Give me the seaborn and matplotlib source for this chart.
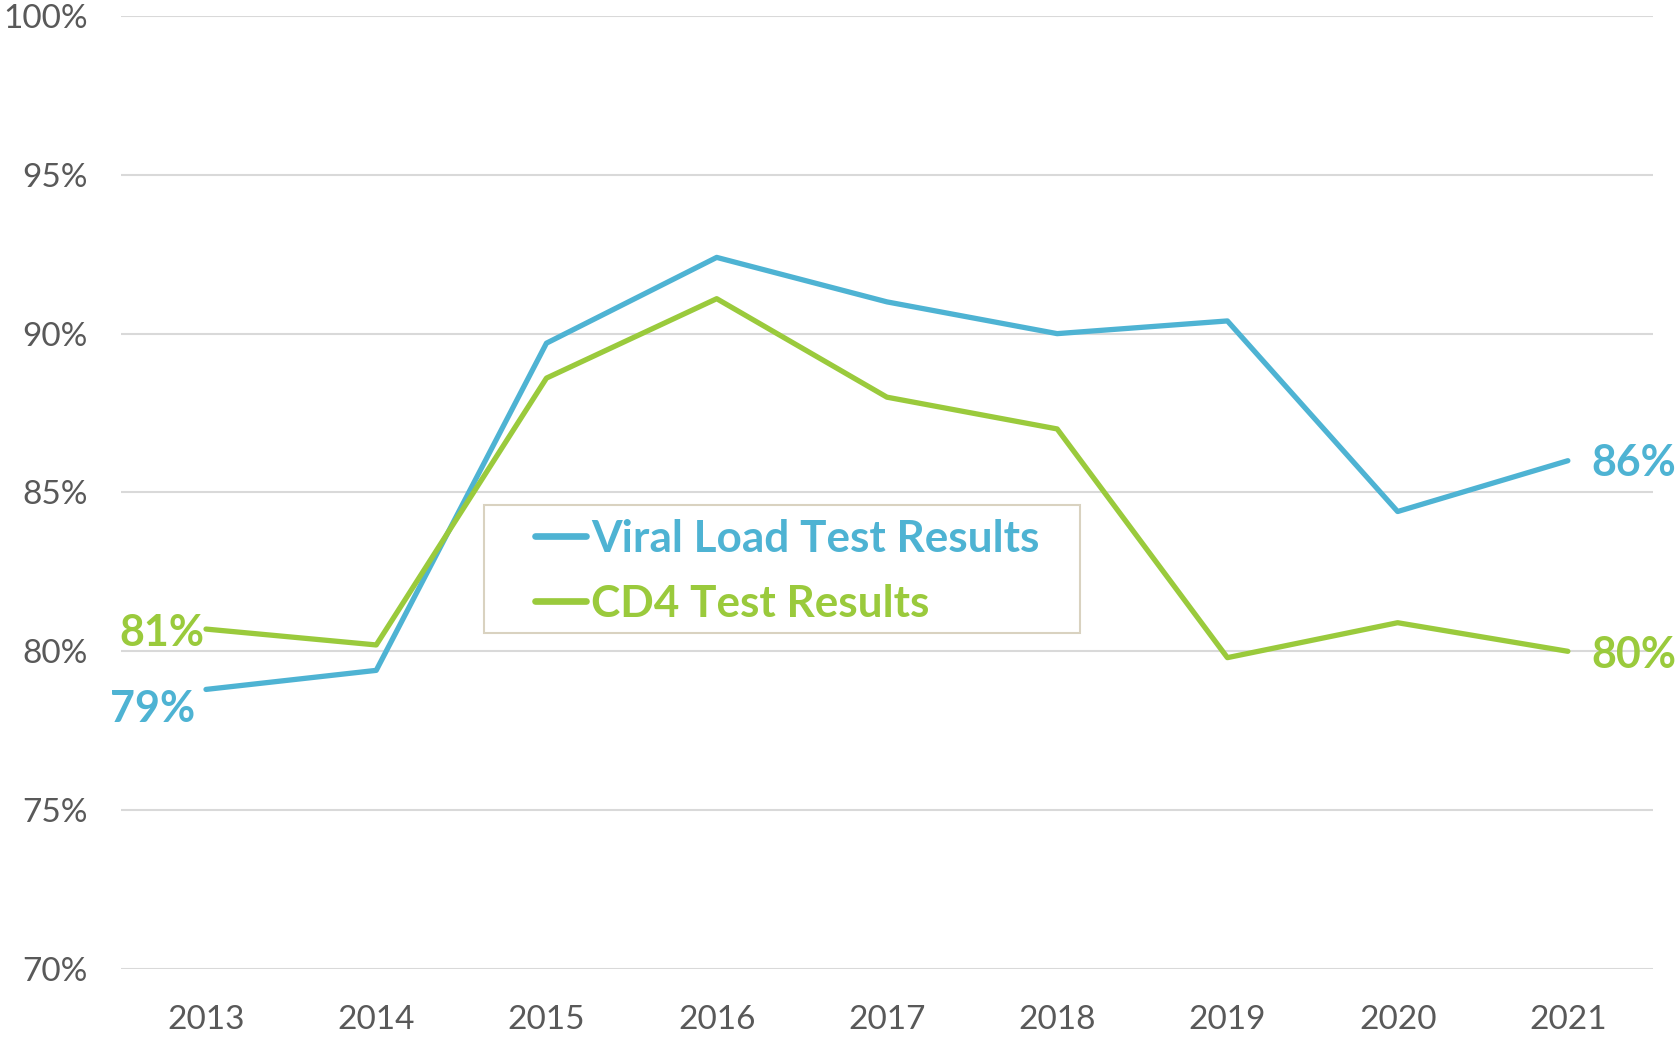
import pandas as pd
import matplotlib.pyplot as plt
from matplotlib.patches import Rectangle
import seaborn as sns

years = ["2013", "2014", "2015", "2016", "2017", "2018", "2019", "2020", "2021"]
viral_load = [78.8, 79.4, 89.7, 92.4, 91.0, 90.0, 90.4, 84.4, 86.0]
cd4 = [80.7, 80.2, 88.6, 91.1, 88.0, 87.0, 79.8, 80.9, 80.0]
series_names = ["Viral Load Test Results", "CD4 Test Results"]
yticks = [70, 75, 80, 85, 90, 95, 100]

blue = "#4EB3D3"
green = "#9ACA3C"

df = pd.DataFrame({
    "year": years * 2,
    "value": viral_load + cd4,
    "series": [series_names[0]] * len(years) + [series_names[1]] * len(years),
})

sns.set_theme(style="white")
plt.rcParams["font.family"] = ["Lato", "DejaVu Sans"]

fig = plt.figure(figsize=(16.79, 10.37), dpi=100)
ax = fig.add_axes([0.072, 0.0656, 0.9125, 0.919])

sns.lineplot(data=df, x="year", y="value", hue="series",
             palette=[blue, green], linewidth=3.8, ax=ax, sort=False)

ax.set_ylim(70, 100)
ax.set_xlim(-0.5, 8.5)
ax.set_yticks(yticks)
ax.set_yticklabels([f"{t}%" for t in yticks])
ax.yaxis.grid(True, color="#D9D9D9", linewidth=1.5)
ax.xaxis.grid(False)
for s in ax.spines.values():
    s.set_visible(False)
ax.tick_params(axis="y", length=0, pad=24, labelsize=24, labelcolor="#595959")
ax.tick_params(axis="x", length=0, pad=26, labelsize=24, labelcolor="#595959")
ax.set_xlabel("")
ax.set_ylabel("")

# end labels
lab = dict(fontsize=31, fontweight="bold", va="center", textcoords="offset points")
ax.annotate(f"{viral_load[0]:.0f}%", (0, viral_load[0]), xytext=(-8, -14), ha="right", color=blue, **lab)
ax.annotate(f"{cd4[0]:.0f}%", (0, cd4[0]), xytext=(-1, -3), ha="right", color=green, **lab)
ax.annotate(f"{viral_load[-1]:.0f}%", (8, viral_load[-1]), xytext=(17, -2), ha="left", color=blue, **lab)
ax.annotate(f"{cd4[-1]:.0f}%", (8, cd4[-1]), xytext=(17, -3), ha="left", color=green, **lab)

# legend box drawn separately, legend itself frameless
ax.add_patch(Rectangle((0.237, 0.3526), 0.389, 0.1344, transform=ax.transAxes,
                       facecolor="white", edgecolor="#D9D2C0", linewidth=1.5, zorder=4))
leg = ax.legend(loc="upper left", bbox_to_anchor=(0.270, 0.4726), frameon=False,
                handlelength=1.16, handletextpad=0.12, borderpad=0, labelspacing=0.57,
                borderaxespad=0, prop={"size": 31.8, "weight": "bold"})
leg.set_zorder(5)
for text, c in zip(leg.get_texts(), [blue, green]):
    text.set_color(c)
for h in leg.get_lines():
    h.set_linewidth(4.8)
    h.set_solid_capstyle("round")

fig.savefig("out.png", dpi=100)
